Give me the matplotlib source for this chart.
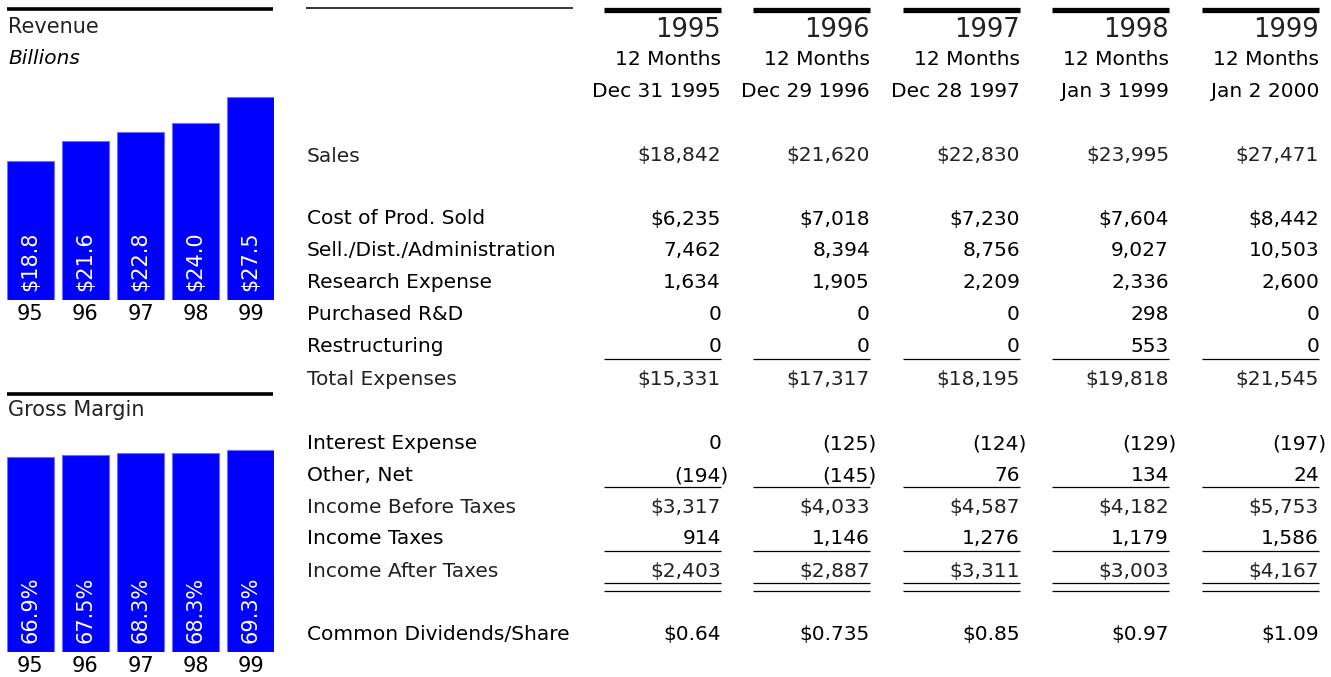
import numpy as np
import matplotlib.pyplot as plt

# column headers
years = ["1995", "1996", "1997", "1998", "1999"]
period = ["12 Months", "12 Months", "12 Months", "12 Months", "12 Months"]
end_dates = ["Dec 31 1995", "Dec 29 1996", "Dec 28 1997", "Jan 3 1999", "Jan 2 2000"]

# income statement, $ millions
sales = [18842, 21620, 22830, 23995, 27471]
cost_sold = [6235, 7018, 7230, 7604, 8442]
sell_admin = [7462, 8394, 8756, 9027, 10503]
research = [1634, 1905, 2209, 2336, 2600]
purchased_rd = [0, 0, 0, 298, 0]
restructuring = [0, 0, 0, 553, 0]
total_expenses = [15331, 17317, 18195, 19818, 21545]
interest_expense = [0, -125, -124, -129, -197]
other_net = [-194, -145, 76, 134, 24]
income_before = [3317, 4033, 4587, 4182, 5753]
income_taxes = [914, 1146, 1276, 1179, 1586]
income_after = [2403, 2887, 3311, 3003, 4167]
dividends = [0.64, 0.735, 0.85, 0.97, 1.09]

# small charts on the left
bar_years = ["95", "96", "97", "98", "99"]
revenue_bn = [18.8, 21.6, 22.8, 24.0, 27.5]
gross_margin = [66.9, 67.5, 68.3, 68.3, 69.3]

W, H = 1331, 677
INK = "black"
LIGHT = "#222222"
BLUE = "#0000ff"
plt.rcParams["font.family"] = "DejaVu Sans"

col_right = [721, 870, 1020, 1169, 1319]
col_width = 117
label_x = 307
paren_hang = 7  # closing bracket sits past the column edge


def money(v, dollar=False):
    """Format an amount like the report does; negatives in brackets"""
    if v < 0:
        return f"({abs(v):,})", paren_hang
    return (f"${v:,}" if dollar else f"{v:,}"), 0


def hline(ax, x0, x1, y, lw):
    ax.plot([x0, x1], [y, y], color=INK, lw=lw, solid_capstyle="butt")


def bar_panel(fig, baseline_px, px_per_unit, ymax, values, fmt):
    """Small blue bar chart with values written up the bars"""
    left, width = 7, 267
    height = ymax * px_per_unit
    ax = fig.add_axes([left / W, 1 - baseline_px / H, width / W, height / H])
    x = np.arange(len(values))
    ax.bar(x, values, width=0.85, color=BLUE, edgecolor="#7070ff", linewidth=0.8)
    ax.set_xlim(-0.425, len(values) - 1 + 0.425)
    ax.set_ylim(0, ymax)
    for xi, v in zip(x, values):
        ax.annotate(fmt(v), (xi, 0), xytext=(0, 6.8), textcoords="offset points",
                    rotation=90, ha="center", va="bottom", color="white", fontsize=15)
    ax.set_xticks(x)
    ax.set_xticklabels(bar_years, fontsize=15, color=INK)
    ax.tick_params(axis="x", length=0, pad=3)
    ax.set_yticks([])
    for s in ax.spines.values():
        s.set_visible(False)
    ax.patch.set_alpha(0)
    return ax


fig = plt.figure(figsize=(W / 100, H / 100), dpi=100)
ax = fig.add_axes([0, 0, 1, 1])
ax.set_xlim(0, W)
ax.set_ylim(H, 0)
ax.axis("off")

# left panel headings
hline(ax, 7, 273, 9, 2.6)
ax.text(8, 33, "Revenue", fontsize=15, color=LIGHT)
ax.text(8, 64, "Billions", fontsize=14.5, style="italic", color=INK)
hline(ax, 7, 273, 393.5, 2.6)
ax.text(8, 416.5, "Gross Margin", fontsize=15, color=LIGHT)

# table header
hline(ax, 306, 573, 8, 1.1)
for i, xr in enumerate(col_right):
    hline(ax, xr - col_width, xr, 10, 3.8)
    ax.text(xr, 37, years[i], ha="right", fontsize=18.5, color=LIGHT)
    ax.text(xr, 65, period[i], ha="right", fontsize=14.5, color=INK)
    ax.text(xr, 97, end_dates[i], ha="right", fontsize=14.5, color=INK)

# rows: label, values, leading $, light style, baseline
rows = [
    ("Sales", sales, True, True, 161.5),
    ("Cost of Prod. Sold", cost_sold, True, False, 224.5),
    ("Sell./Dist./Administration", sell_admin, False, False, 256.5),
    ("Research Expense", research, False, False, 288.5),
    ("Purchased R&D", purchased_rd, False, False, 320.5),
    ("Restructuring", restructuring, False, False, 352),
    ("Total Expenses", total_expenses, True, True, 385),
    ("Interest Expense", interest_expense, False, False, 449),
    ("Other, Net", other_net, False, False, 481),
    ("Income Before Taxes", income_before, True, True, 513),
    ("Income Taxes", income_taxes, False, False, 544.5),
    ("Income After Taxes", income_after, True, True, 577),
]
for label, vals, dollar, light, y in rows:
    c = LIGHT if light else INK
    ax.text(label_x, y, label, fontsize=14.5, color=c)
    for xr, v in zip(col_right, vals):
        s, shift = money(v, dollar)
        ax.text(xr + shift, y, s, ha="right", fontsize=14.5, color=c)

ax.text(label_x, 640, "Common Dividends/Share", fontsize=14.5, color=INK)
for xr, v in zip(col_right, dividends):
    ax.text(xr, 640, f"${v:g}", ha="right", fontsize=14.5, color=INK)

# subtotal rules
for xr in col_right:
    x0 = xr - col_width
    hline(ax, x0, xr, 359, 0.9)
    hline(ax, x0, xr, 487, 0.9)
    hline(ax, x0, xr, 550.5, 0.9)
    hline(ax, x0, xr, 582.5, 0.9)
    hline(ax, x0, xr, 590.5, 0.9)

bar_panel(fig, 300, 7.37, 30, revenue_bn, lambda v: f"${v:.1f}")
bar_panel(fig, 652, 2.92, 70, gross_margin, lambda v: f"{v:.1f}%")

fig.savefig("out.png", dpi=100)
